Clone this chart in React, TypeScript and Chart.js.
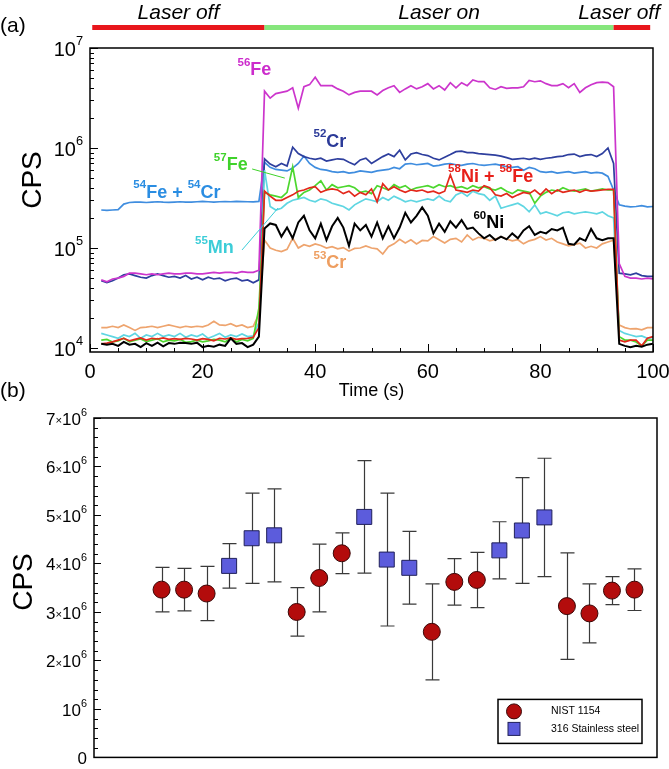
import React, { useEffect, useRef } from 'react';
import { Chart, registerables } from 'chart.js';

Chart.register(...registerables);

const FONT = '"Liberation Sans", Arial, Helvetica, sans-serif';

// ---------- Panel (a): signal vs time ----------
const timeS = [
  2, 3, 4, 5, 6, 7, 8, 9, 10, 11,
  12, 13, 14, 15, 16, 17, 18, 19, 20, 21,
  22, 23, 24, 25, 26, 27, 28, 29, 30, 31,
  32, 33, 34, 35, 36, 37, 38, 39, 40, 41,
  42, 43, 44, 45, 46, 47, 48, 49, 50, 51,
  52, 53, 54, 55, 56, 57, 58, 59, 60, 61,
  62, 63, 64, 65, 66, 67, 68, 69, 70, 71,
  72, 73, 74, 75, 76, 77, 78, 79, 80, 81,
  82, 83, 84, 85, 86, 87, 88, 89, 90, 91,
  92, 93, 94, 95, 96, 97, 98, 99, 100,
];

const fe56 = [
  4.8e4, 4.6e4, 4.9e4, 5.0e4, 5.2e4, 5.6e4, 5.6e4, 5.5e4, 5.4e4, 5.5e4,
  5.4e4, 5.5e4, 5.6e4, 5.5e4, 5.5e4, 5.6e4, 5.6e4, 5.5e4, 5.5e4, 5.6e4,
  5.7e4, 5.6e4, 5.7e4, 5.7e4, 5.6e4, 5.8e4, 5.7e4, 5.7e4, 6.0e4, 3.7e6,
  3.15e6, 3.5e6, 3.6e6, 3.7e6, 4.0e6, 2.5e6, 4.1e6, 4.3e6, 5.1e6, 4.2e6,
  4.2e6, 4.2e6, 3.9e6, 3.7e6, 3.4e6, 3.6e6, 3.7e6, 3.7e6, 3.7e6, 3.4e6,
  3.75e6, 4.0e6, 4.2e6, 3.6e6, 3.9e6, 4.2e6, 3.9e6, 4.1e6, 4.4e6, 3.9e6,
  4.2e6, 3.8e6, 4.5e6, 4.0e6, 4.5e6, 4.2e6, 4.8e6, 4.6e6, 4.6e6, 4.0e6,
  3.85e6, 4.1e6, 3.95e6, 4.0e6, 4.0e6, 4.1e6, 4.75e6, 4.6e6, 4.7e6, 4.4e6,
  4.2e6, 4.2e6, 4.4e6, 4.0e6, 4.4e6, 3.6e6, 4.0e6, 4.3e6, 4.5e6, 4.55e6,
  4.5e6, 4.1e6, 7.0e4, 5.2e4, 5.0e4, 5.0e4, 4.9e4, 5.0e4, 4.9e4,
];

const cr52 = [
  4.7e4, 4.5e4, 4.7e4, 5.0e4, 5.4e4, 5.5e4, 5.3e4, 5.1e4, 5.0e4, 5.3e4,
  5.5e4, 5.3e4, 5.1e4, 5.2e4, 5.0e4, 5.3e4, 4.9e4, 5.1e4, 4.8e4, 5.1e4,
  4.9e4, 5.0e4, 4.7e4, 4.9e4, 5.0e4, 4.7e4, 4.8e4, 4.5e4, 4.8e4, 7.8e5,
  6.9e5, 6.5e5, 7.0e5, 6.6e5, 1.02e6, 8.8e5, 8.2e5, 7.9e5, 7.7e5, 7.9e5,
  7.4e5, 7.6e5, 7.8e5, 7.7e5, 7.2e5, 6.8e5, 7.6e5, 7.9e5, 7.0e5, 7.6e5,
  8.2e5, 8.7e5, 8.2e5, 9.5e5, 7.6e5, 8.7e5, 9.0e5, 8.6e5, 8.4e5, 7.9e5,
  7.6e5, 8.1e5, 8.6e5, 9.2e5, 9.3e5, 9.0e5, 9.0e5, 8.8e5, 8.7e5, 8.6e5,
  8.5e5, 8.3e5, 8.0e5, 7.7e5, 7.8e5, 7.9e5, 7.7e5, 7.9e5, 7.7e5, 7.9e5,
  8.0e5, 8.2e5, 8.3e5, 8.6e5, 8.7e5, 8.2e5, 8.5e5, 8.6e5, 8.2e5, 8.8e5,
  1.0e6, 7.0e5, 5.6e4, 5.5e4, 5.4e4, 5.6e4, 5.3e4, 5.2e4, 5.2e4,
];

const fe54cr54 = [
  2.40e5, 2.38e5, 2.40e5, 2.42e5, 2.75e5, 2.85e5, 2.88e5, 2.87e5, 2.85e5, 2.88e5,
  2.90e5, 2.87e5, 2.86e5, 2.88e5, 2.90e5, 2.88e5, 2.87e5, 2.90e5, 2.92e5, 2.90e5,
  2.88e5, 2.90e5, 2.91e5, 2.90e5, 2.92e5, 2.91e5, 2.90e5, 2.89e5, 2.92e5, 7.2e5,
  6.4e5, 6.1e5, 6.0e5, 5.9e5, 6.3e5, 7.0e5, 8.3e5, 7.0e5, 6.4e5, 6.1e5,
  6.0e5, 5.8e5, 5.7e5, 5.8e5, 5.6e5, 5.7e5, 5.9e5, 5.8e5, 5.7e5, 5.9e5,
  6.0e5, 6.1e5, 6.4e5, 6.2e5, 6.9e5, 7.0e5, 6.8e5, 6.9e5, 7.0e5, 6.6e5,
  6.7e5, 6.9e5, 7.0e5, 6.8e5, 6.7e5, 6.9e5, 7.0e5, 6.8e5, 6.7e5, 6.8e5,
  6.9e5, 6.7e5, 6.5e5, 6.4e5, 6.5e5, 6.0e5, 6.4e5, 6.2e5, 5.8e5, 5.7e5,
  5.8e5, 5.6e5, 5.7e5, 5.8e5, 5.6e5, 5.7e5, 5.8e5, 5.6e5, 5.7e5, 5.6e5,
  5.2e5, 3.8e5, 2.70e5, 2.62e5, 2.58e5, 2.60e5, 2.65e5, 2.58e5, 2.60e5,
];

const fe57 = [
  1.20e4, 1.22e4, 1.15e4, 1.18e4, 1.25e4, 1.15e4, 1.20e4, 1.23e4, 1.16e4, 1.20e4,
  1.24e4, 1.15e4, 1.20e4, 1.18e4, 1.22e4, 1.14e4, 1.16e4, 1.20e4, 1.15e4, 1.18e4,
  1.22e4, 1.20e4, 1.15e4, 1.26e4, 1.15e4, 1.22e4, 1.18e4, 1.25e4, 2.5e4, 3.6e5,
  3.4e5, 3.3e5, 3.2e5, 3.6e5, 6.5e5, 3.2e5, 3.6e5, 3.8e5, 4.2e5, 4.7e5,
  3.8e5, 4.3e5, 4.0e5, 4.1e5, 4.2e5, 4.0e5, 3.6e5, 3.7e5, 3.5e5, 4.2e5,
  4.0e5, 3.8e5, 4.3e5, 4.0e5, 4.2e5, 3.8e5, 4.0e5, 4.1e5, 4.2e5, 4.0e5,
  4.3e5, 4.1e5, 4.2e5, 4.0e5, 4.1e5, 3.9e5, 4.2e5, 4.0e5, 4.1e5, 3.9e5,
  3.8e5, 4.0e5, 3.7e5, 3.5e5, 3.8e5, 3.7e5, 3.6e5, 2.8e5, 3.3e5, 3.6e5,
  3.8e5, 3.7e5, 4.0e5, 3.8e5, 3.7e5, 3.8e5, 3.9e5, 3.7e5, 3.8e5, 3.9e5,
  3.8e5, 3.8e5, 1.30e4, 1.20e4, 1.20e4, 1.15e4, 1.05e4, 1.20e4, 1.20e4,
];

const ni58fe58 = [
  1.10e4, 1.12e4, 1.15e4, 1.20e4, 1.25e4, 1.18e4, 1.22e4, 1.26e4, 1.20e4, 1.25e4,
  1.23e4, 1.26e4, 1.22e4, 1.24e4, 1.22e4, 1.25e4, 1.23e4, 1.20e4, 1.24e4, 1.22e4,
  1.18e4, 1.25e4, 1.23e4, 1.26e4, 1.22e4, 1.24e4, 1.25e4, 1.28e4, 1.6e4, 3.7e5,
  3.3e5, 3.0e5, 3.0e5, 3.2e5, 3.4e5, 3.7e5, 3.8e5, 4.0e5, 4.1e5, 3.6e5,
  3.8e5, 3.9e5, 3.8e5, 3.5e5, 3.7e5, 3.3e5, 3.6e5, 3.4e5, 3.9e5, 2.9e5,
  4.4e5, 3.8e5, 4.1e5, 3.8e5, 3.6e5, 3.8e5, 3.7e5, 3.8e5, 3.6e5, 3.7e5,
  3.5e5, 3.7e5, 5.4e5, 3.8e5, 3.7e5, 3.6e5, 3.8e5, 3.7e5, 4.2e5, 4.0e5,
  3.4e5, 3.3e5, 3.5e5, 3.2e5, 3.4e5, 3.6e5, 3.5e5, 3.8e5, 3.4e5, 3.9e5,
  3.5e5, 3.8e5, 3.6e5, 3.7e5, 3.8e5, 3.6e5, 3.8e5, 3.7e5, 3.75e5, 3.8e5,
  3.85e5, 3.85e5, 1.20e4, 1.15e4, 1.20e4, 1.20e4, 1.05e4, 1.25e4, 1.30e4,
];

const mn55 = [
  1.40e4, 1.35e4, 1.30e4, 1.25e4, 1.35e4, 1.30e4, 1.40e4, 1.25e4, 1.35e4, 1.30e4,
  1.40e4, 1.30e4, 1.35e4, 1.30e4, 1.40e4, 1.28e4, 1.35e4, 1.30e4, 1.38e4, 1.25e4,
  1.32e4, 1.40e4, 1.28e4, 1.35e4, 1.30e4, 1.38e4, 1.30e4, 1.32e4, 1.8e4, 6.0e5,
  2.6e5, 2.4e5, 2.5e5, 2.8e5, 3.0e5, 3.1e5, 3.2e5, 3.0e5, 2.9e5, 3.1e5,
  3.0e5, 2.8e5, 2.7e5, 2.6e5, 2.4e5, 2.7e5, 2.9e5, 3.1e5, 3.0e5, 2.9e5,
  3.2e5, 3.0e5, 3.3e5, 3.1e5, 2.9e5, 3.0e5, 2.9e5, 3.0e5, 3.1e5, 3.0e5,
  3.3e5, 3.0e5, 2.9e5, 3.4e5, 3.6e5, 3.3e5, 3.7e5, 3.5e5, 3.4e5, 3.0e5,
  3.3e5, 2.5e5, 2.6e5, 2.7e5, 2.8e5, 2.6e5, 2.3e5, 2.7e5, 2.2e5, 2.3e5,
  2.2e5, 2.1e5, 2.25e5, 2.3e5, 2.2e5, 2.25e5, 2.3e5, 2.25e5, 2.2e5, 2.3e5,
  2.1e5, 2.0e5, 1.50e4, 1.40e4, 1.35e4, 1.30e4, 1.32e4, 1.25e4, 1.28e4,
];

const ni60 = [
  1.10e4, 1.08e4, 1.10e4, 1.05e4, 1.15e4, 1.08e4, 1.10e4, 1.02e4, 1.12e4, 1.05e4,
  1.13e4, 1.04e4, 1.12e4, 1.10e4, 1.13e4, 1.12e4, 1.10e4, 1.13e4, 1.02e4, 1.05e4,
  1.03e4, 1.08e4, 1.05e4, 1.25e4, 1.10e4, 1.12e4, 1.02e4, 1.08e4, 1.3e4, 1.57e5,
  1.76e5, 1.70e5, 1.30e5, 1.60e5, 1.25e5, 1.80e5, 2.10e5, 1.50e5, 1.25e5, 1.75e5,
  1.20e5, 1.65e5, 2.00e5, 1.60e5, 1.05e5, 1.75e5, 1.50e5, 1.70e5, 1.30e5, 1.80e5,
  1.25e5, 1.65e5, 1.25e5, 1.60e5, 2.25e5, 1.80e5, 2.10e5, 2.55e5, 2.10e5, 1.40e5,
  1.75e5, 1.45e5, 1.85e5, 1.60e5, 1.90e5, 1.55e5, 1.60e5, 1.40e5, 1.25e5, 1.35e5,
  1.20e5, 1.30e5, 1.22e5, 1.40e5, 1.25e5, 1.50e5, 1.65e5, 1.35e5, 1.45e5, 1.40e5,
  1.55e5, 1.50e5, 1.60e5, 1.10e5, 1.08e5, 1.25e5, 1.18e5, 1.55e5, 1.25e5, 1.20e5,
  1.25e5, 1.25e5, 1.10e4, 1.05e4, 1.02e4, 1.05e4, 1.03e4, 1.08e4, 1.10e4,
];

const cr53 = [
  1.60e4, 1.60e4, 1.65e4, 1.60e4, 1.70e4, 1.60e4, 1.50e4, 1.60e4, 1.62e4, 1.65e4,
  1.60e4, 1.65e4, 1.70e4, 1.65e4, 1.60e4, 1.65e4, 1.62e4, 1.65e4, 1.63e4, 1.70e4,
  1.85e4, 1.70e4, 1.68e4, 1.75e4, 1.65e4, 1.70e4, 1.60e4, 1.65e4, 2.2e4, 1.20e5,
  1.00e5, 9.5e4, 9.2e4, 9.7e4, 1.25e5, 1.00e5, 1.08e5, 1.04e5, 1.10e5, 1.06e5,
  1.00e5, 1.03e5, 9.8e4, 1.01e5, 9.3e4, 9.9e4, 1.00e5, 1.05e5, 1.00e5, 9.8e4,
  8.7e4, 1.03e5, 1.10e5, 1.22e5, 1.12e5, 1.21e5, 1.10e5, 1.19e5, 1.18e5, 1.30e5,
  1.21e5, 1.12e5, 1.22e5, 1.25e5, 1.15e5, 1.35e5, 1.20e5, 1.28e5, 1.25e5, 1.18e5,
  1.22e5, 1.30e5, 1.23e5, 1.18e5, 1.21e5, 1.10e5, 1.18e5, 1.22e5, 1.30e5, 1.20e5,
  1.25e5, 1.15e5, 1.10e5, 1.05e5, 1.08e5, 1.12e5, 1.00e5, 1.04e5, 1.00e5, 1.10e5,
  1.15e5, 1.20e5, 1.70e4, 1.60e4, 1.55e4, 1.56e4, 1.52e4, 1.60e4, 1.60e4,
];

const timeTicks = [0, 20, 40, 60, 80, 100];
const timeTickLabels = ['0', '20', '40', '60', '80', '100'];
const cpsTicksA = [1e4, 1e5, 1e6, 1e7];
const cpsTickLabelsA = ['10^{4}', '10^{5}', '10^{6}', '10^{7}'];

// Laser state along the time axis (seconds)
const laserPhases = [
  { label: 'Laser off', start: 0.4, end: 31, color: '#e8161c' },
  { label: 'Laser on', start: 31, end: 93, color: '#86e67c' },
  { label: 'Laser off', start: 93, end: 99.5, color: '#e8161c' },
];

// ---------- Panel (b): repeat measurements ----------
const nistRun = [1, 2, 3, 7, 8, 9, 13, 14, 15, 19, 20, 21, 22];
const nistCps = [3.46e6, 3.46e6, 3.38e6, 3.0e6, 3.7e6, 4.21e6, 2.59e6, 3.62e6, 3.66e6, 3.12e6, 2.97e6, 3.44e6, 3.46e6];
const nistErr = [0.46e6, 0.44e6, 0.56e6, 0.5e6, 0.7e6, 0.42e6, 0.99e6, 0.48e6, 0.57e6, 1.1e6, 0.61e6, 0.29e6, 0.43e6];

const steelRun = [4, 5, 6, 10, 11, 12, 16, 17, 18];
const steelCps = [3.95e6, 4.52e6, 4.58e6, 4.96e6, 4.08e6, 3.91e6, 4.27e6, 4.68e6, 4.95e6];
const steelErr = [0.46e6, 0.93e6, 0.96e6, 1.16e6, 1.37e6, 0.75e6, 0.59e6, 1.09e6, 1.22e6];

const cpsTicksB = [0, 1e6, 2e6, 3e6, 4e6, 5e6, 6e6, 7e6];
const cpsTickLabelsB = ['0', '10^{6}', '2×10^{6}', '3×10^{6}', '4×10^{6}', '5×10^{6}', '6×10^{6}', '7×10^{6}'];

// ---------- styling ----------
const seriesA = [
  { name: '60Ni', values: ni60, color: '#000000', width: 2 },
  { name: '56Fe', values: fe56, color: '#cc35cc', width: 1.7 },
  { name: '58Ni + 58Fe', values: ni58fe58, color: '#e3281b', width: 1.7 },
  { name: '57Fe', values: fe57, color: '#4cd72e', width: 1.7 },
  { name: '55Mn', values: mn55, color: '#5fd6e2', width: 1.7 },
  { name: '52Cr', values: cr52, color: '#2e3f9e', width: 1.7 },
  { name: '54Fe + 54Cr', values: fe54cr54, color: '#3f8ddf', width: 1.7 },
  { name: '53Cr', values: cr53, color: '#eea46e', width: 1.7 },
];

const isotopeLabels = [
  { text: '^{56}Fe', t: 26.2, cps: 6.0e6, color: '#cc2ccc' },
  { text: '^{52}Cr', t: 39.7, cps: 1.16e6, color: '#2b3a98' },
  { text: '^{57}Fe', t: 22.0, cps: 6.76e5, color: '#3fd22a' },
  { text: '^{54}Fe + ^{54}Cr', t: 7.7, cps: 3.57e5, color: '#2a8de2' },
  { text: '^{55}Mn', t: 18.65, cps: 9.9e4, color: '#3ccdd8' },
  { text: '^{53}Cr', t: 39.7, cps: 7.0e4, color: '#ee9e60' },
  { text: '^{58}Ni + ^{58}Fe', t: 63.6, cps: 5.17e5, color: '#e8201a' },
  { text: '^{60}Ni', t: 68.1, cps: 1.77e5, color: '#000000' },
];

const leaderLines = [
  { from: [28.8, 6.17e5], to: [34.6, 5.0e5], color: '#3fd22a' },
  { from: [27.0, 9.55e4], to: [33.4, 2.51e5], color: '#3ccdd8' },
];

type Seg = { text: string; kind: 'n' | 's' | 'x' };

function parseRich(s: string): Seg[] {
  const out: Seg[] = [];
  let buf = '';
  let i = 0;
  const flush = () => {
    if (buf) {
      out.push({ text: buf, kind: 'n' });
      buf = '';
    }
  };
  while (i < s.length) {
    const c = s[i];
    if (c === '^' && s[i + 1] === '{') {
      flush();
      const end = s.indexOf('}', i);
      out.push({ text: s.slice(i + 2, end), kind: 's' });
      i = end + 1;
    } else if (c === '×') {
      flush();
      out.push({ text: c, kind: 'x' });
      i++;
    } else {
      buf += c;
      i++;
    }
  }
  flush();
  return out;
}

function drawRich(
  ctx: CanvasRenderingContext2D,
  s: string,
  x: number,
  y: number,
  size: number,
  color: string,
  align: 'left' | 'right' | 'center',
  weight = 'normal',
) {
  const segs = parseRich(s);
  const fontFor = (k: Seg['kind']) =>
    `${weight} ${k === 'n' ? size : k === 's' ? size * 0.64 : size * 0.66}px ${FONT}`;
  const widths = segs.map((sg) => {
    ctx.font = fontFor(sg.kind);
    return ctx.measureText(sg.text).width;
  });
  const total = widths.reduce((a, b) => a + b, 0);
  let cx = align === 'left' ? x : align === 'right' ? x - total : x - total / 2;
  ctx.fillStyle = color;
  ctx.textAlign = 'left';
  ctx.textBaseline = 'middle';
  segs.forEach((sg, i) => {
    ctx.font = fontFor(sg.kind);
    const dy = sg.kind === 's' ? -size * 0.42 : sg.kind === 'x' ? size * 0.06 : 0;
    ctx.fillText(sg.text, cx, y + dy);
    cx += widths[i];
  });
}

function drawRotatedTitle(ctx: CanvasRenderingContext2D, text: string, x: number, y: number, size: number) {
  ctx.save();
  ctx.translate(x, y);
  ctx.rotate(-Math.PI / 2);
  ctx.font = `${size}px ${FONT}`;
  ctx.fillStyle = '#000';
  ctx.textAlign = 'center';
  ctx.textBaseline = 'middle';
  ctx.fillText(text, 0, 0);
  ctx.restore();
}

const panelAPlugin = {
  id: 'panelA',
  afterDraw(chart: any) {
    const { ctx, chartArea: area, scales } = chart;
    const xs = scales.x;
    const ys = scales.y;
    ctx.save();

    // frame
    ctx.strokeStyle = '#000';
    ctx.lineWidth = 1.5;
    ctx.strokeRect(area.left, area.top, area.right - area.left, area.bottom - area.top);

    // inward ticks
    ctx.lineWidth = 1;
    ctx.beginPath();
    for (let t = 0; t <= 100; t += 5) {
      const px = Math.round(xs.getPixelForValue(t)) + 0.5;
      const len = t % 20 === 0 ? 8 : 4;
      ctx.moveTo(px, area.bottom);
      ctx.lineTo(px, area.bottom - len);
    }
    for (let e = 4; e <= 7; e++) {
      for (let m = 1; m <= 9; m++) {
        const v = m * Math.pow(10, e);
        if (v > 1e7 || v < 9200) continue;
        const py = Math.round(ys.getPixelForValue(v)) + 0.5;
        const len = m === 1 ? 8 : 4;
        ctx.moveTo(area.left, py);
        ctx.lineTo(area.left + len, py);
      }
    }
    ctx.stroke();

    // tick labels
    timeTicks.forEach((t, i) => {
      ctx.font = `20px ${FONT}`;
      ctx.fillStyle = '#000';
      ctx.textAlign = 'center';
      ctx.textBaseline = 'middle';
      ctx.fillText(timeTickLabels[i], xs.getPixelForValue(t), area.bottom + 20);
    });
    cpsTicksA.forEach((v, i) => {
      drawRich(ctx, cpsTickLabelsA[i], area.left - 7, ys.getPixelForValue(v) + 2, 20, '#000', 'right');
    });

    // axis titles
    ctx.font = `18px ${FONT}`;
    ctx.fillStyle = '#000';
    ctx.textAlign = 'center';
    ctx.textBaseline = 'middle';
    ctx.fillText('Time (s)', (area.left + area.right) / 2, area.bottom + 39);
    drawRotatedTitle(ctx, 'CPS', 33, 180, 28);

    // panel tag
    ctx.font = `21px ${FONT}`;
    ctx.textAlign = 'left';
    ctx.fillText('(a)', 0, 26);

    // laser state bar
    laserPhases.forEach((p) => {
      const x1 = xs.getPixelForValue(p.start);
      const x2 = xs.getPixelForValue(p.end);
      ctx.fillStyle = p.color;
      ctx.fillRect(x1, 25, x2 - x1, 5);
      ctx.font = `italic 21px ${FONT}`;
      ctx.fillStyle = '#000';
      ctx.textAlign = 'center';
      ctx.textBaseline = 'middle';
      const w = ctx.measureText(p.label).width;
      let cx = (x1 + x2) / 2;
      if (cx + w / 2 > chart.width - 9) cx = chart.width - 9 - w / 2;
      ctx.fillText(p.label, cx, 13);
    });

    // isotope labels
    leaderLines.forEach((l) => {
      ctx.strokeStyle = l.color;
      ctx.lineWidth = 1;
      ctx.beginPath();
      ctx.moveTo(xs.getPixelForValue(l.from[0]), ys.getPixelForValue(l.from[1]));
      ctx.lineTo(xs.getPixelForValue(l.to[0]), ys.getPixelForValue(l.to[1]));
      ctx.stroke();
    });
    isotopeLabels.forEach((l) => {
      drawRich(ctx, l.text, xs.getPixelForValue(l.t), ys.getPixelForValue(l.cps), 18, l.color, 'left', 'bold');
    });
    ctx.restore();
  },
};

const panelBPlugin = {
  id: 'panelB',
  beforeDatasetsDraw(chart: any) {
    const { ctx, scales } = chart;
    const xs = scales.x;
    const ys = scales.y;
    ctx.save();
    ctx.strokeStyle = '#3a3a3a';
    ctx.lineWidth = 1.2;
    const bars = (runs: number[], cps: number[], err: number[]) => {
      runs.forEach((r, i) => {
        const px = Math.round(xs.getPixelForValue(r)) + 0.5;
        const top = ys.getPixelForValue(cps[i] + err[i]);
        const bot = ys.getPixelForValue(cps[i] - err[i]);
        ctx.beginPath();
        ctx.moveTo(px, top);
        ctx.lineTo(px, bot);
        ctx.moveTo(px - 7, top);
        ctx.lineTo(px + 7, top);
        ctx.moveTo(px - 7, bot);
        ctx.lineTo(px + 7, bot);
        ctx.stroke();
      });
    };
    bars(nistRun, nistCps, nistErr);
    bars(steelRun, steelCps, steelErr);
    ctx.restore();
  },
  afterDraw(chart: any) {
    const { ctx, chartArea: area, scales } = chart;
    const ys = scales.y;
    ctx.save();
    ctx.strokeStyle = '#000';
    ctx.lineWidth = 1.5;
    ctx.strokeRect(area.left, area.top, area.right - area.left, area.bottom - area.top);

    ctx.lineWidth = 1;
    ctx.beginPath();
    for (let v = 0; v <= 7e6 + 1; v += 2e5) {
      const py = Math.round(ys.getPixelForValue(v)) + 0.5;
      const major = Math.abs(v / 1e6 - Math.round(v / 1e6)) < 1e-6;
      ctx.moveTo(area.left, py);
      ctx.lineTo(area.left + (major ? 7 : 4), py);
    }
    ctx.stroke();

    cpsTicksB.forEach((v, i) => {
      drawRich(ctx, cpsTickLabelsB[i], area.left - 7, ys.getPixelForValue(v) + 2, 17, '#000', 'right');
    });

    drawRotatedTitle(ctx, 'CPS', 24, 582 - 375, 28);
    ctx.font = `21px ${FONT}`;
    ctx.fillStyle = '#000';
    ctx.textAlign = 'left';
    ctx.textBaseline = 'middle';
    ctx.fillText('(b)', 0, 16);

    // legend
    const bw = 144;
    const bh = 44;
    const bx = area.right - 15 - bw;
    const by = area.bottom - 14 - bh;
    ctx.fillStyle = '#fff';
    ctx.fillRect(bx, by, bw, bh);
    ctx.strokeStyle = '#000';
    ctx.lineWidth = 1.5;
    ctx.strokeRect(bx, by, bw, bh);

    ctx.fillStyle = '#b30c0c';
    ctx.strokeStyle = '#3a0606';
    ctx.lineWidth = 1;
    ctx.beginPath();
    ctx.arc(bx + 16, by + 12, 7.5, 0, Math.PI * 2);
    ctx.fill();
    ctx.stroke();

    ctx.fillStyle = '#5c5cdc';
    ctx.strokeStyle = '#20205a';
    ctx.fillRect(bx + 10, by + 23, 12, 13);
    ctx.strokeRect(bx + 10, by + 23, 12, 13);

    ctx.fillStyle = '#000';
    ctx.font = `10.5px ${FONT}`;
    ctx.textAlign = 'left';
    ctx.textBaseline = 'middle';
    ctx.fillText('NIST 1154', bx + 53, by + 12);
    ctx.fillText('316 Stainless steel', bx + 53, by + 30);
    ctx.restore();
  },
};

export default function App() {
  const refA = useRef<HTMLCanvasElement>(null);
  const refB = useRef<HTMLCanvasElement>(null);

  useEffect(() => {
    const chartA = new Chart(refA.current as HTMLCanvasElement, {
      type: 'line',
      data: {
        datasets: seriesA.map((s) => ({
          label: s.name,
          data: timeS.map((t, i) => ({ x: t, y: s.values[i] })),
          borderColor: s.color,
          borderWidth: s.width,
          pointRadius: 0,
          tension: 0,
          fill: false,
        })),
      },
      options: {
        responsive: false,
        animation: false,
        devicePixelRatio: 1,
        layout: { padding: { left: 90, top: 48, right: 16, bottom: 58 } },
        scales: {
          x: { type: 'linear', min: 0, max: 100, display: false },
          y: { type: 'logarithmic', min: 9120, max: 1e7, display: false },
        },
        plugins: { legend: { display: false }, tooltip: { enabled: false } },
      },
      plugins: [panelAPlugin],
    } as any);

    const chartB = new Chart(refB.current as HTMLCanvasElement, {
      type: 'scatter',
      data: {
        datasets: [
          {
            label: 'NIST 1154',
            data: nistRun.map((r, i) => ({ x: r, y: nistCps[i] })),
            pointStyle: 'circle',
            pointRadius: 8.5,
            backgroundColor: '#b30c0c',
            borderColor: '#3a0606',
            borderWidth: 1,
          },
          {
            label: '316 Stainless steel',
            data: steelRun.map((r, i) => ({ x: r, y: steelCps[i] })),
            pointStyle: 'rect',
            pointRadius: 10.6,
            backgroundColor: '#5c5cdc',
            borderColor: '#20205a',
            borderWidth: 1,
          },
        ],
      },
      options: {
        responsive: false,
        animation: false,
        devicePixelRatio: 1,
        layout: { padding: { left: 94, top: 43, right: 12, bottom: 9 } },
        scales: {
          x: { type: 'linear', min: -2, max: 23, display: false },
          y: { type: 'linear', min: 0, max: 7e6, display: false },
        },
        plugins: { legend: { display: false }, tooltip: { enabled: false } },
      },
      plugins: [panelBPlugin],
    } as any);

    return () => {
      chartA.destroy();
      chartB.destroy();
    };
  }, []);

  return (
    <div style={{ position: 'fixed', left: 0, top: 0, width: 669, height: 769, background: '#fff', overflow: 'hidden' }}>
      <canvas ref={refA} width={669} height={410} style={{ position: 'absolute', left: 0, top: 0 }} />
      <canvas ref={refB} width={669} height={394} style={{ position: 'absolute', left: 0, top: 375 }} />
    </div>
  );
}
